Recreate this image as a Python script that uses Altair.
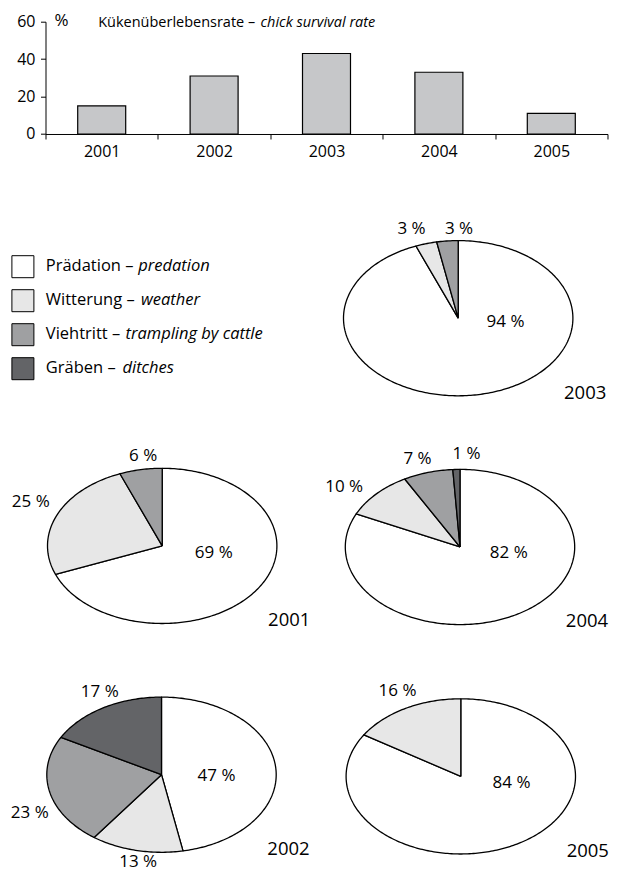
import math
import altair as alt
import pandas as pd

# ---------------- data ----------------
YEARS = ["2001", "2002", "2003", "2004", "2005"]
SURVIVAL = [15, 31, 43, 33, 11]

CAUSES_DE = ["Prädation", "Witterung", "Viehtritt", "Gräben"]
CAUSES_EN = ["predation", "weather", "trampling by cattle", "ditches"]
PREDATION = [69, 47, 94, 82, 84]
WEATHER = [25, 13, 3, 10, 16]
TRAMPLING = [6, 23, 3, 7, 0]
DITCHES = [0, 17, 0, 1, 0]

TITLE_DE = "Kükenüberlebensrate – "
TITLE_EN = "chick survival rate"
UNIT = "%"

# ---------------- styles ----------------
FONT = "Open Sans"
CAUSE_COLORS = ["#ffffff", "#e7e7e7", "#9fa0a2", "#636467"]
BAR_COLOR = "#c6c7c9"

# ---------------- layout (page pixels) ----------------
PLOT_LEFT, PLOT_RIGHT = 44, 606
BAR_TOP, BAR_BOTTOM = 20.7, 133
GAP = 20
CANVAS_TOP = BAR_BOTTOM + GAP
CANVAS_BOTTOM = 865
RX, RY = 114.7, 77.6
PIE_CENTER = {
    "2001": (160.7, 544.2),
    "2002": (160.0, 773.0),
    "2003": (456.7, 316.5),
    "2004": (458.5, 545.3),
    "2005": (459.3, 774.7),
}
LABEL_OFFSET = {
    ("2001", "Prädation"): (51.6, 6.8),
    ("2001", "Witterung"): (-131.4, -44.2),
    ("2001", "Viehtritt"): (-19.0, -90.2),
    ("2002", "Prädation"): (55.0, 1.3),
    ("2002", "Witterung"): (-23.3, 87.0),
    ("2002", "Viehtritt"): (-131.7, 38.7),
    ("2002", "Gräben"): (-61.7, -83.0),
    ("2003", "Prädation"): (47.3, 4.0),
    ("2003", "Witterung"): (-46.7, -89.3),
    ("2003", "Viehtritt"): (0.8, -89.3),
    ("2004", "Prädation"): (48.8, 6.0),
    ("2004", "Witterung"): (-115.8, -60.0),
    ("2004", "Viehtritt"): (-42.5, -88.3),
    ("2004", "Gräben"): (6.5, -93.3),
    ("2005", "Prädation"): (50.7, 7.0),
    ("2005", "Witterung"): (-63.3, -85.7),
}
YEAR_OFFSET = (127.0, 74.5)
LEG_SQ_X, LEG_TEXT_X = 21.4, 44.3
LEG_Y0, LEG_STEP = 265.0, 34.0
LEG_ITALIC_X = [136.7, 139.5, 124.0, 121.0]

SERIES = dict(zip(CAUSES_DE, [PREDATION, WEATHER, TRAMPLING, DITCHES]))

# ---------------- pie wedges (elliptical) ----------------
rows = []
labels = []
for yi, year in enumerate(YEARS):
    cx, cy = PIE_CENTER[year]
    start = 0.0
    for c in CAUSES_DE:
        v = SERIES[c][yi]
        if v <= 0:
            continue
        end = start + v / 100.0
        sid = f"{year}-{c}"
        k = 0
        rows.append(dict(sid=sid, cause=c, k=k, x=cx, y=cy))
        k += 1
        n = max(2, int(math.ceil((end - start) * 360)))
        for j in range(n + 1):
            t = 2 * math.pi * (start + (end - start) * j / n)
            rows.append(dict(sid=sid, cause=c, k=k,
                             x=cx + RX * math.sin(t), y=cy - RY * math.cos(t)))
            k += 1
        rows.append(dict(sid=sid, cause=c, k=k, x=cx, y=cy))
        dx, dy = LABEL_OFFSET[(year, c)]
        labels.append(dict(x=cx + dx, y=cy + dy, text=f"{v} %"))
        start = end

wedges = pd.DataFrame(rows)
pct = pd.DataFrame(labels)
yr = pd.DataFrame({
    "x": [PIE_CENTER[y][0] + YEAR_OFFSET[0] for y in YEARS],
    "y": [PIE_CENTER[y][1] + YEAR_OFFSET[1] for y in YEARS],
    "text": YEARS,
})
leg = pd.DataFrame({
    "cause": CAUSES_DE,
    "en": CAUSES_EN,
    "de": [c + " – " for c in CAUSES_DE],
    "sx": [LEG_SQ_X] * 4,
    "sy": [LEG_Y0 + i * LEG_STEP for i in range(4)],
    "tx": [LEG_TEXT_X] * 4,
    "ix": LEG_ITALIC_X,
    "ty": [LEG_Y0 + 4.3 + i * LEG_STEP for i in range(4)],
})

fill_scale = alt.Scale(domain=CAUSES_DE, range=CAUSE_COLORS)
xs = alt.Scale(domain=[PLOT_LEFT, PLOT_RIGHT], nice=False, zero=False)
ys = alt.Scale(domain=[CANVAS_TOP, CANVAS_BOTTOM], nice=False, zero=False, reverse=True)

W = PLOT_RIGHT - PLOT_LEFT
H_BAR = BAR_BOTTOM - BAR_TOP
H_CANVAS = CANVAS_BOTTOM - CANVAS_TOP

pies = alt.Chart(wedges).mark_line(
    stroke="black", strokeWidth=1.3, strokeJoin="round", clip=False
).encode(
    x=alt.X("x:Q", scale=xs, axis=None),
    y=alt.Y("y:Q", scale=ys, axis=None),
    fill=alt.Fill("cause:N", scale=fill_scale, legend=None),
    detail="sid:N",
    order=alt.Order("k:Q"),
)

pct_text = alt.Chart(pct).mark_text(
    font=FONT, fontSize=17, align="center", baseline="middle", color="black"
).encode(
    x=alt.X("x:Q", scale=xs, axis=None),
    y=alt.Y("y:Q", scale=ys, axis=None),
    text="text:N",
)

yr_text = alt.Chart(yr).mark_text(
    font=FONT, fontSize=18.5, align="center", baseline="middle", color="black"
).encode(
    x=alt.X("x:Q", scale=xs, axis=None),
    y=alt.Y("y:Q", scale=ys, axis=None),
    text="text:N",
)

leg_sq = alt.Chart(leg).mark_square(
    size=484, stroke="black", strokeWidth=1, opacity=1
).encode(
    x=alt.X("sx:Q", scale=xs, axis=None),
    y=alt.Y("sy:Q", scale=ys, axis=None),
    fill=alt.Fill("cause:N", scale=fill_scale, legend=None),
)

leg_de = alt.Chart(leg).mark_text(
    font=FONT, fontSize=16.5, align="left", baseline="alphabetic", color="black"
).encode(
    x=alt.X("tx:Q", scale=xs, axis=None),
    y=alt.Y("ty:Q", scale=ys, axis=None),
    text="de:N",
)

leg_en = alt.Chart(leg).mark_text(
    font=FONT, fontSize=16.5, fontStyle="italic", align="left",
    baseline="alphabetic", color="black"
).encode(
    x=alt.X("ix:Q", scale=xs, axis=None),
    y=alt.Y("ty:Q", scale=ys, axis=None),
    text="en:N",
)

canvas = alt.layer(pies, pct_text, yr_text, leg_sq, leg_de, leg_en).properties(
    width=W, height=H_CANVAS
)

# ---------------- bar chart ----------------
bars_df = pd.DataFrame({"year": YEARS, "rate": SURVIVAL})
bars = alt.Chart(bars_df).mark_bar(
    width=alt.RelativeBandSize(0.427), fill=BAR_COLOR, stroke="black", strokeWidth=1.2
).encode(
    x=alt.X("year:N", scale=alt.Scale(paddingInner=0, paddingOuter=0),
            axis=alt.Axis(title=None, labelAngle=0, tickBand="extent", tickSize=5,
                          labelPadding=5, labelFontSize=16)),
    y=alt.Y("rate:Q", scale=alt.Scale(domain=[0, 60], nice=False),
            axis=alt.Axis(title=None, values=[0, 20, 40, 60], tickSize=5,
                          labelPadding=5.5, grid=False, labelFontSize=16)),
)

head = pd.DataFrame({"unit": [UNIT], "de": [TITLE_DE], "en": [TITLE_EN]})
unit_t = alt.Chart(head).mark_text(
    font=FONT, fontSize=17, align="center", baseline="alphabetic", color="black"
).encode(x=alt.value(16), y=alt.value(4.3), text="unit:N")
title_de = alt.Chart(head).mark_text(
    font=FONT, fontSize=14.5, align="left", baseline="alphabetic", color="black"
).encode(x=alt.value(52.7), y=alt.value(5.3), text="de:N")
title_en = alt.Chart(head).mark_text(
    font=FONT, fontSize=14.5, fontStyle="italic", align="left", baseline="alphabetic",
    color="black"
).encode(x=alt.value(215), y=alt.value(5.3), text="en:N")

bar_chart = alt.layer(bars, unit_t, title_de, title_en).properties(width=W, height=H_BAR)

chart = alt.vconcat(bar_chart, canvas, spacing=GAP, bounds="flush").properties(
    padding={"left": 1.5, "top": 3.7, "right": 0, "bottom": 12}
).configure_view(stroke=None).configure_axis(
    labelFont=FONT, labelColor="black", domainColor="black", tickColor="black",
    domainWidth=1, tickWidth=1
)

chart.save("out.html", embed_options={"renderer": "svg", "actions": False})
